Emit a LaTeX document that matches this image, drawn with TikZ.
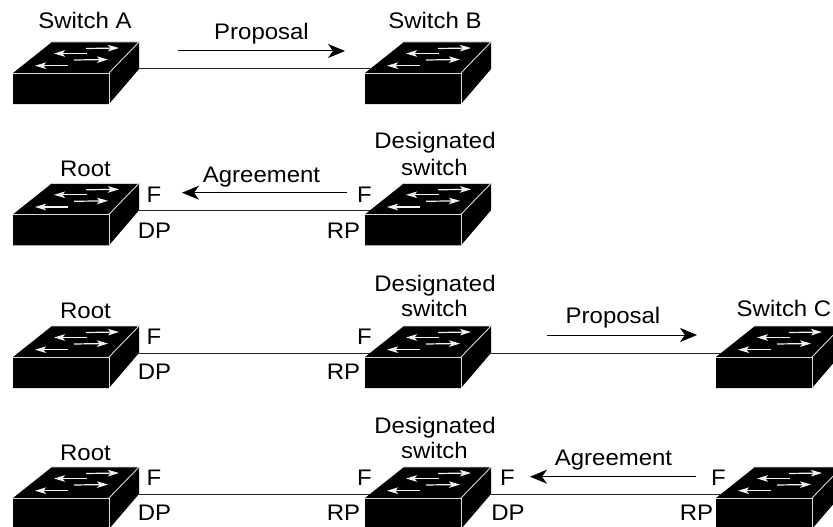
\documentclass[tikz,border=0pt]{standalone}
\usepackage{fontspec}
\setmainfont{Liberation Sans}[FakeStretch=1.065]
\usetikzlibrary{arrows.meta}
\tikzset{
  link/.style={draw=black!85,line width=1pt},
  msg/.style={draw=black,line width=1pt,-{Stealth[length=17pt,width=14pt,inset=5pt]}},
  lab/.style={anchor=base,inner sep=0pt,font=\fontsize{22.5}{26}\selectfont},
  surf/.style={draw=white!95!black,line width=1.2pt,-{Stealth[length=11pt,width=6.5pt,inset=2.5pt]}},
  edge/.style={draw=white!85!black,line width=0.9pt},
  sw/.pic={
    \fill[black] (0,0) -- (39,-31) -- (126,-31) -- (126,-4) -- (96,31) -- (0,31) -- cycle;
    \draw[edge] (0,0) -- (96,0) -- (96,31);
    \draw[edge] (96,0) -- (126,-31) -- (39,-31);
    \draw[surf] (73,-24.5) -- (106,-25);
    \draw[surf] (74,-19.5) -- (41,-19.5);
    \draw[surf] (61,-13) -- (95,-13.5);
    \draw[surf] (55,-7.3) -- (22,-7.3);
    \coordinate (-out) at (126,-4);
    \coordinate (-in) at (5,-4);
  }
}
\begin{document}
\begin{tikzpicture}[x=1pt,y=-1pt]
\clip (0,0) rectangle (833,527);
% row 1
\pic (a1) at (13,73) {sw};
\pic (b1) at (365,73) {sw};
\draw[link] (a1-out) -- (b1-in);
\node[lab] (ta1) at (85,28.5) {Switch A};
\node[lab] (tb1) at (435,28.5) {Switch B};
\node[lab] (tp1) at (261.5,40) {Proposal};
\coordinate (p1s) at (178,51); \coordinate (p1e) at (345,51);
\draw[msg] (p1s) -- (p1e);
% row 2
\pic (a2) at (13,214.3) {sw};
\pic (b2) at (365,214.3) {sw};
\draw[link] (a2-out) -- (b2-in);
\node[lab] (tr2) at (85.5,176) {Root};
\node[lab] (td2) at (435,148.3) {Designated};
\node[lab] (ts2) at (434.5,175.5) {switch};
\node[lab] (tg2) at (261.5,182) {Agreement};
\node[lab] (f2a) at (154,202) {F};
\node[lab] (f2b) at (364.5,202) {F};
\node[lab] (dp2) at (154.5,238) {DP};
\node[lab] (rp2) at (343.5,238) {RP};
\coordinate (g2s) at (347,192.7); \coordinate (g2e) at (182,192.7);
\draw[msg] (g2s) -- (g2e);
% row 3
\pic (a3) at (13,357) {sw};
\pic (b3) at (365,357) {sw};
\pic (c3) at (716,357) {sw};
\draw[link] (a3-out) -- (b3-in);
\draw[link] (b3-out) -- (c3-in);
\node[lab] (tr3) at (85.5,318) {Root};
\node[lab] (td3) at (435,291) {Designated};
\node[lab] (ts3) at (434.5,316.5) {switch};
\node[lab] (tc3) at (784,316) {Switch C};
\node[lab] (tp3) at (613,323) {Proposal};
\node[lab] (f3a) at (154,344) {F};
\node[lab] (f3b) at (364.5,344) {F};
\node[lab] (dp3) at (154.5,379) {DP};
\node[lab] (rp3) at (343.5,379) {RP};
\coordinate (p3s) at (547,335); \coordinate (p3e) at (697,335);
\draw[msg] (p3s) -- (p3e);
% row 4
\pic (a4) at (13,498) {sw};
\pic (b4) at (365,498) {sw};
\pic (c4) at (716,498) {sw};
\draw[link] (a4-out) -- (b4-in);
\draw[link] (b4-out) -- (c4-in);
\node[lab] (tr4) at (85.5,460) {Root};
\node[lab] (td4) at (435,433) {Designated};
\node[lab] (ts4) at (434.5,458) {switch};
\node[lab] (tg4) at (613.5,465) {Agreement};
\node[lab] (f4a) at (154,485) {F};
\node[lab] (f4b) at (364.5,485) {F};
\node[lab] (f4c) at (507.5,485) {F};
\node[lab] (f4d) at (718.5,485) {F};
\node[lab] (dp4) at (154.5,520) {DP};
\node[lab] (rp4) at (343.5,520) {RP};
\node[lab] (dp4b) at (508,520) {DP};
\node[lab] (rp4b) at (696.5,520) {RP};
\coordinate (g4s) at (696,476.7); \coordinate (g4e) at (530,476.7);
\draw[msg] (g4s) -- (g4e);
\end{tikzpicture}
\end{document}
